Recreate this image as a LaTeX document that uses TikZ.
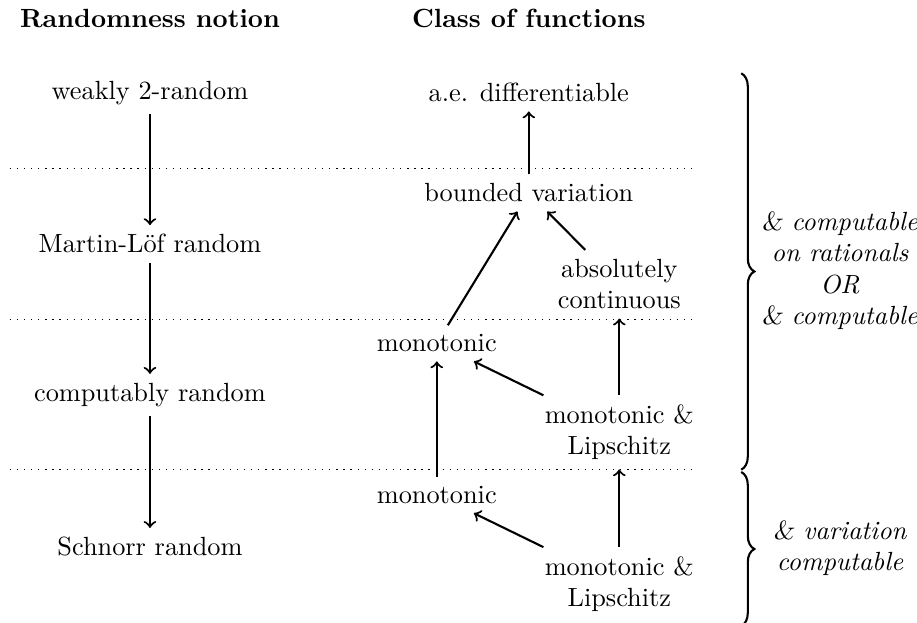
\documentclass[tikz,border=0pt]{standalone}
\usepackage{amssymb, amsmath}
\usepackage{tikz}
\usetikzlibrary{decorations.pathreplacing}

\begin{document}
\begin{tikzpicture}[arr/.style={thick, ->}, brc/.style={thick, decorate, decoration={brace, amplitude=5pt}}]
      \useasboundingbox (0,0) rectangle (12.26,-8.32);
      % Headings:
      \node (rhead) at (2.005,-0.25) {\textbf{Randomness notion}};
      \node (fhead) at (7.07,-0.25) {\textbf{Class of functions}};
      % Randomness notions:
      \node (wtwo) at (2.005,-1.24) {weakly 2-random};
      \node (mlr) at (2.005,-3.26) {Martin-L\"of random};
      \node (cr) at (2.005,-5.28) {computably random};
      \node (sr) at (2.005,-7.31) {Schnorr random};
      \draw[arr] (wtwo) -- (mlr);
      \draw[arr] (mlr) -- (cr);
      \draw[arr] (cr) -- (sr);
      % Classes of functions:
      \node (aed) at (7.07,-1.24) {a.e. differentiable};
      \node (bv) at (7.07,-2.58) {bounded variation};
      \node[align=center] (ac) at (8.28,-3.80) {absolutely\\continuous};
      \node (mone) at (5.84,-4.59) {monotonic};
      \node[align=center] (mlone) at (8.28,-5.78) {monotonic \&\\Lipschitz};
      \node (mtwo) at (5.84,-6.62) {monotonic};
      \node[align=center] (mltwo) at (8.28,-7.81) {monotonic \&\\Lipschitz};
      \draw[arr] (bv) -- (aed);
      \draw[arr] (mone) -- (bv);
      \draw[arr] (ac) -- (bv);
      \draw[arr] (mlone) -- (mone);
      \draw[arr] (mlone) -- (ac);
      \draw[arr] (mtwo) -- (mone);
      \draw[arr] (mltwo) -- (mtwo);
      \draw[arr] (mltwo) -- (mlone);
      % Dotted separators:
      \foreach \y in {-2.25,-4.27,-6.28} \draw[line width=0.5pt, dash pattern=on 0.5pt off 2.2pt] (0.13,\y) -- (9.27,\y);
      % Braces:
      \draw[brc] (9.91,-0.98) -- (9.91,-6.28);
      \draw[brc] (9.91,-6.31) -- (9.91,-8.37);
      \node[align=center, font=\itshape] (cond) at (11.23,-3.62) {{\slshape\&} computable\\on rationals\\OR\\{\slshape\&} computable};
      \node[align=center, font=\itshape] (vcond) at (11.23,-7.33) {{\slshape\&} variation\\computable};
\end{tikzpicture}
\end{document}
